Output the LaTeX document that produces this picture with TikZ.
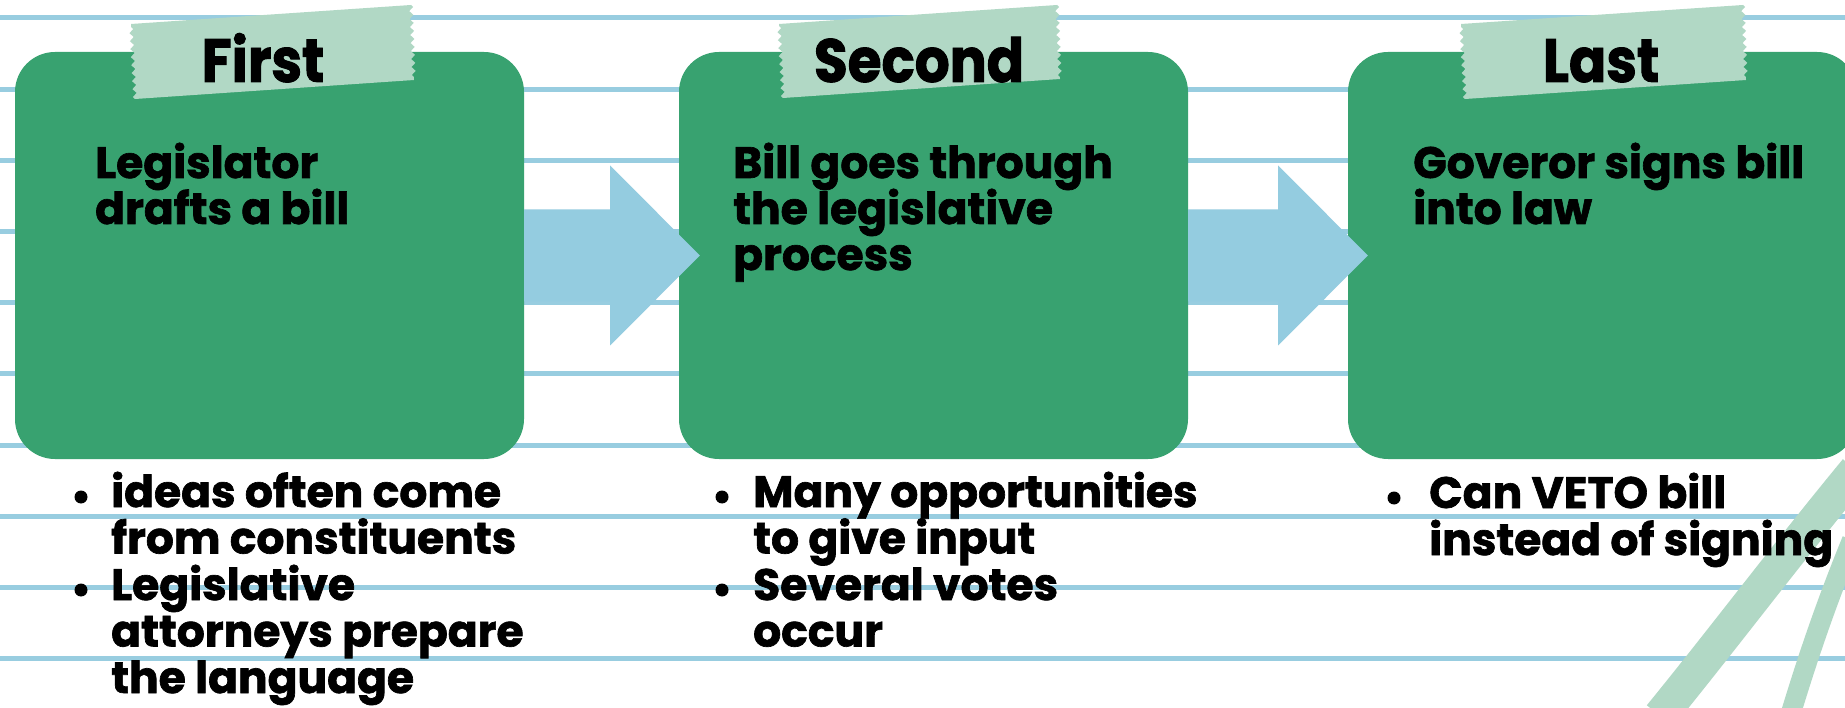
\documentclass[tikz,border=0pt]{standalone}
\usepackage{fontspec}
\setmainfont{Poppins}[BoldFeatures={FakeBold=1.5}]
\newfontfamily\tapefont{Poppins}[BoldFeatures={FakeBold=1.5,FakeStretch=0.9}]
\usetikzlibrary{calc,decorations.pathmorphing}
\definecolor{rulecol}{RGB}{152,205,224}
\definecolor{arrowcol}{RGB}{148,204,224}
\definecolor{boxgreen}{RGB}{56,162,112}
\definecolor{tapecol}{RGB}{177,216,197}
\begin{document}
\begin{tikzpicture}[x=1pt,y=-1pt,
  ruling/.style={draw=rulecol, line width=5pt},
  box/.style={fill=boxgreen, rounded corners=40pt, minimum width=509pt, minimum height=407pt, inner sep=0pt},
  tape/.style={fill=tapecol},
  torn/.style={decoration={zigzag,segment length=8pt,amplitude=2pt}},
  tapetext/.style={font=\tapefont\fontsize{61}{61}\selectfont\bfseries, anchor=base, inner sep=0pt},
  txt/.style={font=\fontsize{44}{46.5}\selectfont\bfseries, anchor=base west, inner sep=0pt},
  bul/.style={circle, fill=black, minimum size=13pt, inner sep=0pt},
  flow/.style={fill=arrowcol},
  brush/.style={draw=tapecol}
]
\useasboundingbox (0,0) rectangle (1845,708);
\fill[white] (0,0) rectangle (1845,708);
% ruled lines
\foreach \k in {0,...,9} \draw[ruling] (0,{18+71.2*\k}) -- (1845,{18+71.2*\k});
% brush strokes
\draw[brush, line width=34pt] (1660,716) .. controls (1722,640) and (1785,556) .. (1856,470);
\draw[brush, line width=20pt] (1790,716) .. controls (1807,660) and (1825,606) .. (1852,540);
% boxes
\node[box] (b1) at (269.5,255.5) {};
\node[box] (b2) at (933.5,255.5) {};
\node[box] (b3) at (1602.5,255.5) {};
% arrows
\fill[flow] ($(b1.east)+(0,-46)$) -- ++(86,0) -- ++(0,-44) -- ($(b2.west)+(21,0)$)
  -- ($(b1.east)+(86,90)$) -- ++(0,-44) -- ($(b1.east)+(0,46)$) -- cycle;
\fill[flow] ($(b2.east)+(0,-46)$) -- ++(90,0) -- ++(0,-44) -- ($(b3.west)+(20,0)$)
  -- ($(b2.east)+(90,90)$) -- ++(0,-44) -- ($(b2.east)+(0,46)$) -- cycle;
% tapes
\fill[tape] (131,24) -- (411,5) decorate[torn]{-- (414,80)} -- (135,99) decorate[torn]{-- (131,24)} -- cycle;
\fill[tape] (779,24) -- (1057,5) decorate[torn]{-- (1060,79)} -- (783,98) decorate[torn]{-- (779,24)} -- cycle;
\fill[tape] (1461,24) -- (1743,5) decorate[torn]{-- (1746,80)} -- (1465,99) decorate[torn]{-- (1461,24)} -- cycle;
\node[tapetext] (l1) at (263,82) {First};
\node[tapetext] (l2) at (919,82) {Second};
\node[tapetext] (l3) at (1601,82) {Last};
% titles
\node[txt] (t1a) at (95,178) {Legislator};
\node[txt] (t1b) at (95,224) {drafts a bill};
\node[txt] (t2a) at (733,178) {Bill goes through};
\node[txt] (t2b) at (733,224) {the legislative};
\node[txt] (t2c) at (733,270) {process};
\node[txt] (t3a) at (1413,178) {Goveror signs bill};
\node[txt] (t3b) at (1413,224) {into law};
% bullets box 1
\node[bul] (d1a) at (81,497) {};
\node[txt] (p1a) at (111,507) {ideas often come};
\node[txt] (p1b) at (111,553.5) {from constituents};
\node[bul] (d1b) at (81,590) {};
\node[txt] (p1c) at (111,600) {Legislative};
\node[txt] (p1d) at (111,646.5) {attorneys prepare};
\node[txt] (p1e) at (111,693) {the language};
% bullets box 2
\node[bul] (d2a) at (722,497) {};
\node[txt] (p2a) at (753,507) {Many opportunities};
\node[txt] (p2b) at (753,553.5) {to give input};
\node[bul] (d2b) at (722,590) {};
\node[txt] (p2c) at (753,600) {Several votes};
\node[txt] (p2d) at (753,646.5) {occur};
% bullets box 3
\node[bul] (d3a) at (1394,498) {};
\node[txt] (p3a) at (1429,508) {Can VETO bill};
\node[txt] (p3b) at (1429,555) {instead of signing};
\end{tikzpicture}
\end{document}
